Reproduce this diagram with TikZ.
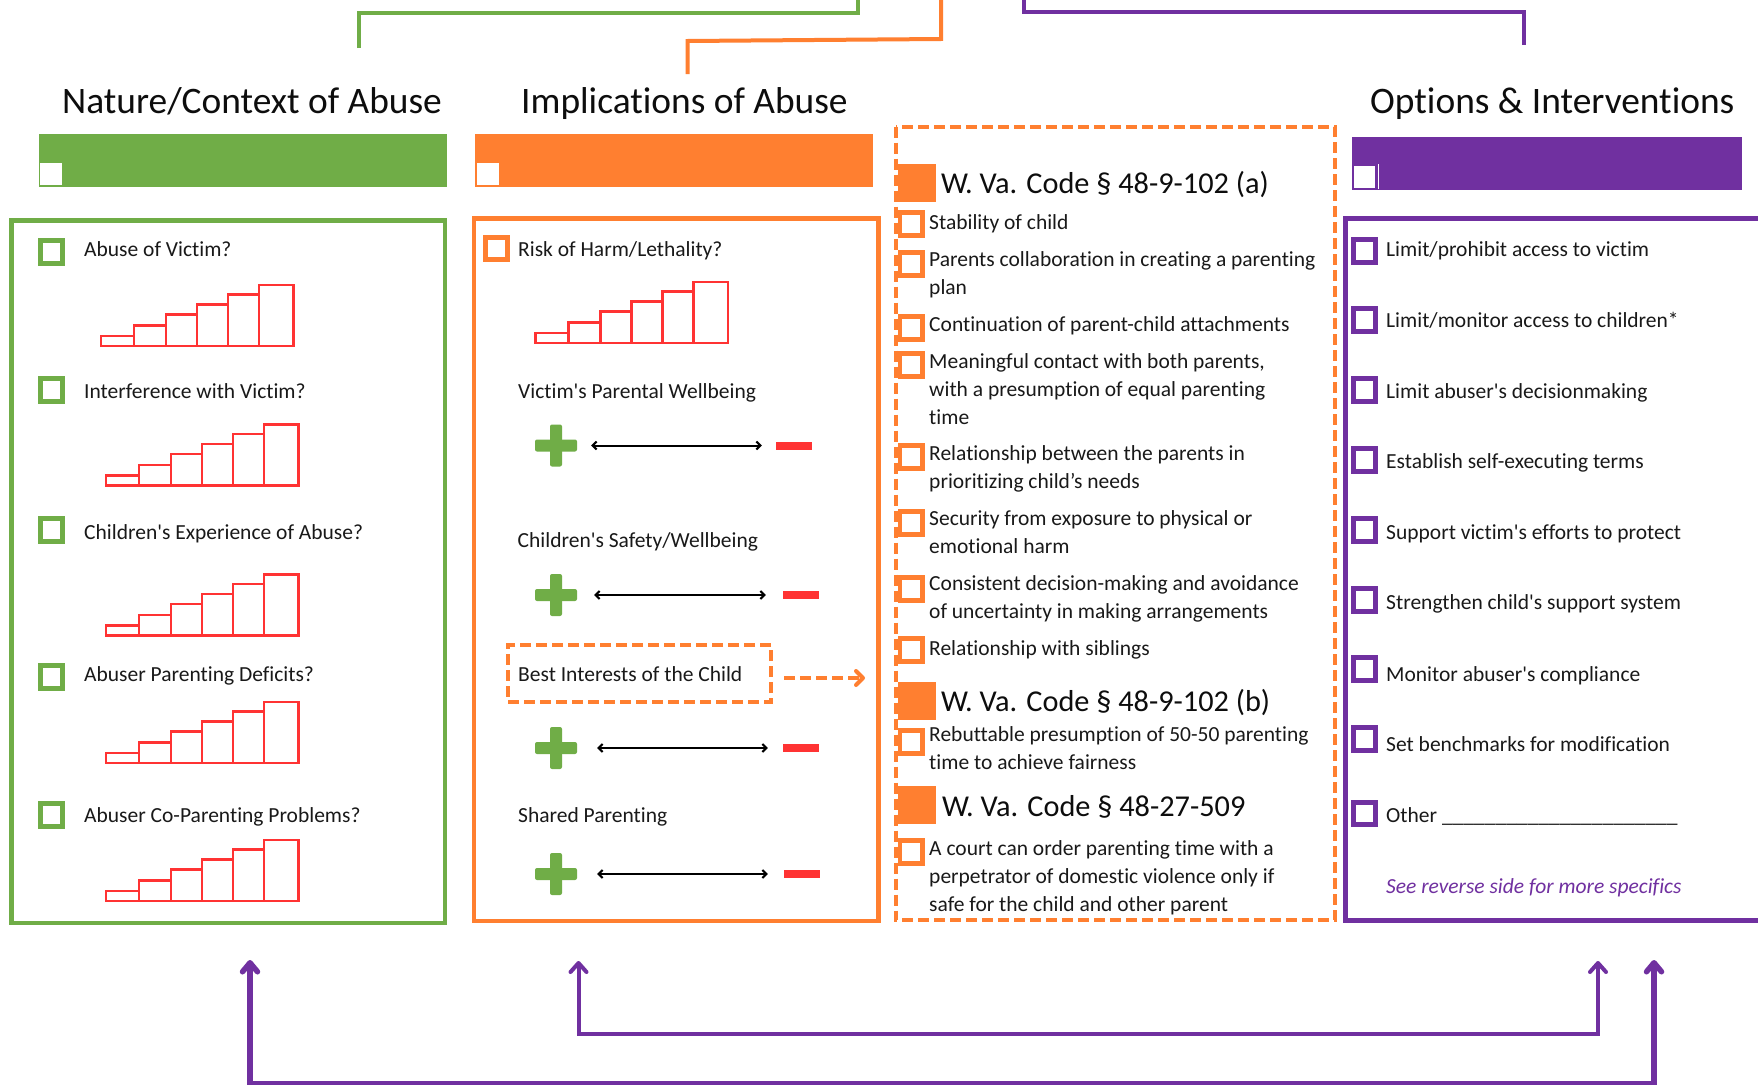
\documentclass[tikz,border=0pt]{standalone}
\usepackage{fontspec}
\newfontfamily\carl[Ligatures=NoCommon]{Carlito}
\usetikzlibrary{arrows.meta}
\definecolor{gr}{RGB}{112,173,71}
\definecolor{org}{RGB}{255,127,48}
\definecolor{pur}{RGB}{112,48,160}
\definecolor{rd}{RGB}{255,51,51}
\tikzset{
  txt/.style={anchor=base west,inner sep=0pt,yshift=-1pt,font=\carl\fontsize{21.5}{26}\selectfont,text=black!90},
  head/.style={anchor=base west,inner sep=0pt,font=\carl\fontsize{37.4}{42}\selectfont,text=black!95},
  code/.style={anchor=base west,inner sep=0pt,font=\carl\fontsize{30.3}{36}\selectfont,text=black!95},
  bar/.style={rectangle,draw=none,inner sep=0pt,anchor=north west},
  chk/.style={rectangle,draw=#1,fill=white,line width=5pt,minimum size=22.5pt,inner sep=0pt},
  hchk/.style={rectangle,draw=#1,fill=white,line width=1.5pt,minimum size=23pt,inner sep=0pt},
  frame/.style={draw=#1,line width=4.5pt},
  dashbox/.style={draw=org,line width=4pt,dash pattern=on 11pt off 5pt},
  square/.style={rectangle,fill=org,draw=none,minimum width=42pt,minimum height=38pt,inner sep=0pt},
  plush/.style={rectangle,fill=gr,draw=none,rounded corners=2pt,minimum width=42pt,minimum height=12pt,inner sep=0pt},
  plusv/.style={rectangle,fill=gr,draw=none,rounded corners=2pt,minimum width=12pt,minimum height=42pt,inner sep=0pt},
  minus/.style={rectangle,fill=rd,draw=none,minimum width=36pt,minimum height=8pt,inner sep=0pt},
  scale arrow/.style={black,line width=2pt,{Straight Barb[length=4pt,width=8pt]}-{Straight Barb[length=4pt,width=8pt]}},
  stairbar/.style={draw=rd,line width=2.3pt,fill=white},
}
\begin{document}
\begin{tikzpicture}[x=1pt,y=-1pt]
\useasboundingbox[fill=white] (0,0) rectangle (1758,1084);

% top connectors
\coordinate (gtA) at (358.5,48);
\coordinate (gtB) at (858,0);
\draw[gr,line width=4pt] (gtA) |- (858,13) -- (gtB);
\coordinate (otA) at (687.5,74);
\coordinate (otB) at (941,0);
\draw[org,line width=4pt] (otA) -- (687.5,41) -- (941,39) -- (otB);
\coordinate (ptA) at (1024,0);
\coordinate (ptB) at (1524,45);
\draw[pur,line width=4pt] (ptA) |- (1524,12) -- (ptB);

% headings
\node[head] (h1) at (62,113) {Nature/Context of Abuse};
\node[head] (h2) at (521,113) {Implications of Abuse};
\node[head] (h3) at (1370,113) {Options \& Interventions};

% bars
\node[bar,fill=gr,minimum width=408pt,minimum height=53pt] (b1) at (39,134) {};
\node[bar,fill=org,minimum width=398pt,minimum height=53pt] (b2) at (475,134) {};
\node[bar,fill=pur,minimum width=390pt,minimum height=53pt] (b3) at (1352,137) {};
\node[hchk=gr] (b1c) at (51,174) {};
\node[hchk=org] (b2c) at (488,174) {};
\node[hchk=pur] (b3c) at (1364.5,177) {};
\coordinate (b3a) at (1378.5,164);
\coordinate (b3b) at (1378.5,189);
\draw[white,line width=1pt] (b3a) -- (b3b);

% frames
\draw[frame=gr] (11.5,220.5) rectangle (445,923);
\draw[frame=org] (474,218.5) rectangle (878.5,921);
\draw[frame=pur] (1758,218.5) -- (1345.5,218.5) -- (1345.5,920.5) -- (1758,920.5);

% green column
\foreach \i/\y in {1/252,2/390,3/530,4/677,5/815}{
  \node[chk=gr] (gc\i) at (51.5,\y) {};
}
\node[txt] (gt1) at (84,255.5) {Abuse of Victim?};
\node[txt] (gt2) at (84,397) {Interference with Victim?};
\node[txt] (gt3) at (84,538) {Children's Experience of Abuse?};
\node[txt] (gt4) at (84,680) {Abuser Parenting Deficits?};
\node[txt] (gt5) at (84,821) {Abuser Co-Parenting Problems?};

% stair charts
\foreach \dx/\dy in {0/0,5/139.5,5/289.5,5/417,5/555,434.5/-3}{
  \begin{scope}[shift={(\dx,\dy)}]
    \foreach \a/\b/\c in {101/134/336,134/166/325.5,166/197/314.5,197/228/304.5,228/259/294.5,259/293.5/285}{
      \draw[stairbar] (\a,346) rectangle (\b,\c);
    }
  \end{scope}
}

% orange column
\node[chk=org] (oc1) at (496.5,248.5) {};
\node[txt] (ot1) at (518,255.5) {Risk of Harm/Lethality?};
\node[txt] (ot2) at (518,397) {Victim's Parental Wellbeing};
\node[txt] (ot3) at (517.5,546) {Children's Safety/Wellbeing};
\node[dashbox,rectangle,minimum width=263pt,minimum height=57pt,inner sep=0pt] (bibox) at (639.5,673.5) {};
\node[txt] (ot4) at (518,680) {Best Interests of the Child};
\node[txt] (ot5) at (518,821) {Shared Parenting};
\coordinate (biend) at (865,678);
\draw[org,line width=4pt,dash pattern=on 11pt off 5pt,-{Straight Barb[length=7pt,width=14pt,round]},shorten <=11pt] (bibox.east |- biend) -- (biend);

\foreach \i/\y/\mx in {1/445.5/794,2/595/801,3/748/801,4/874/802}{
  \node[plush] (ph\i) at (556,\y) {};
  \node[plusv] (pv\i) at (556,\y) {};
  \node[minus] (m\i) at (\mx,\y) {};
}
\draw[scale arrow,shorten <=14pt,shorten >=14pt] (ph1) -- (m1);
\draw[scale arrow,shorten <=17pt,shorten >=17pt] (ph2) -- (m2);
\draw[scale arrow,shorten <=20pt,shorten >=15pt] (ph3) -- (m3);
\draw[scale arrow,shorten <=20pt,shorten >=16pt] (ph4) -- (m4);

% law column
\foreach \i/\y in {1/183,2/701,3/805}{
  \node[square] (sq\i) at (915,\y) {};
}
\foreach \i/\y in {1/224,2/264,3/328,4/365,5/457,6/523,7/589,8/650,9/742,10/852}{
  \node[chk=org] (lc\i) at (911,\y) {};
}
\node[code] (c1) at (941,193) {W. Va. Code § 48-9-102 (a)};
\node[code] (c2) at (941,711) {W. Va. Code § 48-9-102 (b)};
\node[code] (c3) at (942,816) {W. Va. Code § 48-27-509};
\foreach \i/\y/\t in {
 1/228.5/{Stability of child},
 2/265/{Parents collaboration in creating a parenting},
 3/293/{plan},
 4/330/{Continuation of parent-child attachments},
 5/367/{Meaningful contact with both parents,},
 6/395/{with a presumption of equal parenting},
 7/423/{time},
 8/459/{Relationship between the parents in},
 9/487/{prioritizing child’s needs},
 10/524/{Security from exposure to physical or},
 11/552/{emotional harm},
 12/589/{Consistent decision-making and avoidance},
 13/617/{of uncertainty in making arrangements},
 14/654/{Relationship with siblings},
 15/740/{Rebuttable presumption of 50-50 parenting},
 16/768/{time to achieve fairness},
 17/854/{A court can order parenting time with a},
 18/882/{perpetrator of domestic violence only if},
 19/910/{safe for the child and other parent}}{
  \node[txt] (lt\i) at (929,\y) {\t};
}
\draw[white,line width=4pt] (895.5,126.5) rectangle (1334.5,920);
\draw[dashbox] (895.5,126.5) rectangle (1334.5,920);

% purple column
\foreach \i/\y in {1/251,2/320,3/390,4/460,5/530,6/600,7/669,8/739,9/813.5}{
  \node[chk=pur] (uc\i) at (1364.5,\y) {};
}
\node[txt] (ut1) at (1386,255.5) {Limit/prohibit access to victim};
\node[txt] (ut2) at (1386,326) {Limit/monitor access to children*};
\node[txt] (ut3) at (1386,397) {Limit abuser's decisionmaking};
\node[txt] (ut4) at (1386,467.5) {Establish self-executing terms};
\node[txt] (ut5) at (1386,538) {Support victim's efforts to protect};
\node[txt] (ut6) at (1386,608.5) {Strengthen child's support system};
\node[txt] (ut7) at (1386,680) {Monitor abuser's compliance};
\node[txt] (ut8) at (1386,750) {Set benchmarks for modification};
\node[txt] (ut9) at (1386,821) {Other \_\_\_\_\_\_\_\_\_\_\_\_\_\_\_\_\_\_\_\_\_\_};
\node[txt,text=pur,font=\carl\fontsize{21.5}{26}\selectfont\itshape] (ut10) at (1386,892) {See reverse side for more specifics};

% bottom connectors
\coordinate (aA) at (578.5,961);
\coordinate (aB) at (1598,961);
\draw[pur,line width=4pt,{Straight Barb[length=9pt,width=16pt,round]}-{Straight Barb[length=9pt,width=16pt,round]}] (aA) |- (1598,1034) -- (aB);
\coordinate (cA) at (250,960);
\coordinate (cB) at (1654,960);
\draw[pur,line width=5.5pt,{Straight Barb[length=9pt,width=15pt,round]}-{Straight Barb[length=9pt,width=15pt,round]}] (cA) |- (1654,1084) -- (cB);
\end{tikzpicture}
\end{document}
